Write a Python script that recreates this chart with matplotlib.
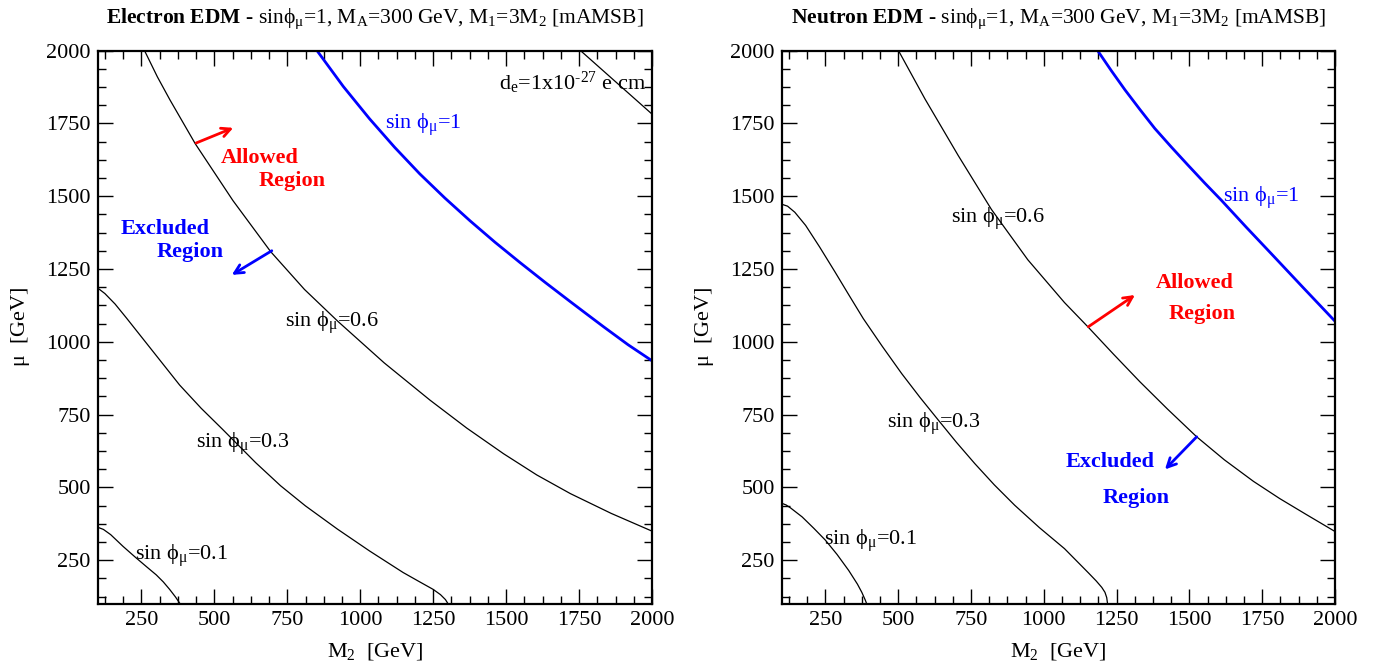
import matplotlib
matplotlib.use('Agg')
import matplotlib.pyplot as plt
from matplotlib.ticker import MultipleLocator

plt.rcParams['font.family'] = ['Liberation Serif', 'DejaVu Serif']
plt.rcParams['mathtext.fontset'] = 'custom'
plt.rcParams['mathtext.rm'] = 'Liberation Serif'
plt.rcParams['mathtext.it'] = 'Liberation Serif:italic'
plt.rcParams['mathtext.bf'] = 'Liberation Serif:bold'
plt.rcParams['mathtext.default'] = 'regular'
plt.rcParams['mathtext.fallback'] = 'stix'

# ---- electron EDM contours (M2, mu) in GeV ----
e_m2_01 = [99, 120, 145, 187, 230, 270, 301, 325, 347, 367, 384]
e_mu_01 = [364, 356, 338, 298, 260, 226, 200, 176, 150, 124, 99]
e_m2_03 = [99, 125, 160, 199, 290, 381, 455, 528, 642, 727, 812, 922, 1032,
           1147, 1200, 1250, 1275, 1292, 1302]
e_mu_03 = [1186, 1166, 1130, 1082, 967, 852, 772, 700, 585, 506, 437, 357, 282,
           208, 178, 150, 132, 115, 99]
e_m2_06 = [261, 305, 348, 435, 564, 693, 809, 925, 1082, 1239, 1365, 1491, 1605,
           1720, 1860, 2000]
e_mu_06 = [2000, 1910, 1831, 1680, 1485, 1310, 1180, 1069, 928, 800, 704, 616, 543,
           479, 411, 350]
e_m2_10 = [852, 942, 1032, 1118, 1204, 1290, 1376, 1462, 1548, 1634, 1720,
           1778, 1835, 1918, 2000]
e_mu_10 = [2000, 1877, 1766, 1668, 1577, 1494, 1416, 1342, 1272, 1204, 1138,
           1094, 1051, 990, 935]
e_m2_lim = [1755, 2000]
e_mu_lim = [2000, 1782]

# ---- neutron EDM contours ----
n_m2_01 = [102, 115, 130, 170, 210, 250, 290, 330, 360, 375, 387, 392]
n_mu_01 = [445, 440, 430, 399, 360, 319, 270, 215, 168, 140, 113, 100]
n_m2_03 = [102, 120, 145, 182, 230, 283, 330, 380, 445, 512, 575, 638, 700,
           763, 830, 900, 985, 1071, 1153, 1180, 1199, 1210, 1216, 1219]
n_mu_03 = [1472, 1466, 1445, 1400, 1326, 1240, 1162, 1080, 985, 891, 809, 731,
           655, 582, 509, 439, 362, 290, 207, 179, 157, 140, 122, 100]
n_m2_06 = [501, 592, 706, 820, 945, 1071, 1153, 1240, 1330, 1425, 1525, 1620,
           1720, 1810, 1900, 1998]
n_mu_06 = [2000, 1834, 1640, 1455, 1282, 1135, 1050, 957, 863, 769, 674, 595,
           521, 462, 408, 350]
n_m2_10 = [1185, 1232, 1279, 1330, 1381, 1438, 1495, 1552, 1610, 1695, 1781,
           1890, 1998]
n_mu_10 = [2000, 1931, 1865, 1798, 1733, 1669, 1607, 1546, 1486, 1394, 1303,
           1187, 1073]

FS = 16
BLUE = '#0000ff'
phi = r'$\phi_\mu$'


def style_axes(ax):
    ax.set_xlim(100, 2000)
    ax.set_ylim(100, 2000)
    ax.xaxis.set_major_locator(MultipleLocator(250))
    ax.xaxis.set_minor_locator(MultipleLocator(62.5))
    ax.yaxis.set_major_locator(MultipleLocator(250))
    ax.yaxis.set_minor_locator(MultipleLocator(62.5))
    ax.tick_params(which='both', direction='in', top=True, right=True,
                   labelsize=FS, pad=5)
    ax.tick_params(which='major', length=11, width=1.0)
    ax.tick_params(which='minor', length=6, width=1.0)
    for s in ax.spines.values():
        s.set_linewidth(1.6)
    ax.set_xlabel(r'M$_2$  [GeV]', fontsize=FS)
    ax.set_ylabel(r'$\mu$  [GeV]', fontsize=FS)
    ax.xaxis.set_label_coords(0.5, -0.067)
    ax.yaxis.set_label_coords(-0.118, 0.5)


def arrow(ax, start, end, color):
    ax.annotate('', xy=end, xytext=start,
                arrowprops=dict(arrowstyle='->', color=color, lw=2,
                                mutation_scale=16, shrinkA=0, shrinkB=0))


fig = plt.figure(figsize=(13.78, 6.71), dpi=100)
ax1 = fig.add_axes([0.0708, 0.0999, 0.4024, 0.8246])
ax2 = fig.add_axes([0.5673, 0.0999, 0.4015, 0.8246])

# electron panel
ax1.plot(e_m2_01, e_mu_01, color='black', lw=0.9)
ax1.plot(e_m2_03, e_mu_03, color='black', lw=0.9)
ax1.plot(e_m2_06, e_mu_06, color='black', lw=0.9)
ax1.plot(e_m2_lim, e_mu_lim, color='black', lw=0.9)
ax1.plot(e_m2_10, e_mu_10, color=BLUE, lw=2.0)
style_axes(ax1)
ax1.set_title(r'$\mathbf{Electron\ EDM}$ - sin$\phi_\mu$=1, M$_A$=300 GeV, '
              r'M$_1$=3M$_2$ [mAMSB]', fontsize=15.5, pad=20)
ax1.text(1474, 1865, r'd$_e$=1x10$^{\text{-27}}$ e cm', fontsize=FS)
ax1.text(1086, 1730, 'sin ' + phi + '=1', fontsize=FS, color=BLUE)
ax1.text(743, 1050, 'sin ' + phi + '=0.6', fontsize=FS)
ax1.text(438, 637, 'sin ' + phi + '=0.3', fontsize=FS)
ax1.text(229, 251, 'sin ' + phi + '=0.1', fontsize=FS)
ax1.text(657, 1613, 'Allowed', fontsize=FS, color='red', weight='bold', ha='center')
ax1.text(766, 1536, 'Region', fontsize=FS, color='red', weight='bold', ha='center')
ax1.text(331, 1370, 'Excluded', fontsize=FS, color=BLUE, weight='bold', ha='center')
ax1.text(416, 1290, 'Region', fontsize=FS, color=BLUE, weight='bold', ha='center')
arrow(ax1, (438, 1683), (565, 1735), 'red')
arrow(ax1, (697, 1313), (560, 1230), BLUE)

# neutron panel
ax2.plot(n_m2_01, n_mu_01, color='black', lw=0.9)
ax2.plot(n_m2_03, n_mu_03, color='black', lw=0.9)
ax2.plot(n_m2_06, n_mu_06, color='black', lw=0.9)
ax2.plot(n_m2_10, n_mu_10, color=BLUE, lw=2.0)
style_axes(ax2)
ax2.set_title(r'$\mathbf{Neutron\ EDM}$ - sin$\phi_\mu$=1, M$_A$=300 GeV, '
              r'M$_1$=3M$_2$ [mAMSB]', fontsize=15.5, pad=20)
ax2.text(1617, 1479, 'sin ' + phi + '=1', fontsize=FS, color=BLUE)
ax2.text(681, 1409, 'sin ' + phi + '=0.6', fontsize=FS)
ax2.text(461, 703, 'sin ' + phi + '=0.3', fontsize=FS)
ax2.text(246, 303, 'sin ' + phi + '=0.1', fontsize=FS)
ax2.text(1519, 1184, 'Allowed', fontsize=FS, color='red', weight='bold', ha='center')
ax2.text(1542, 1078, 'Region', fontsize=FS, color='red', weight='bold', ha='center')
ax2.text(1229, 569, 'Excluded', fontsize=FS, color=BLUE, weight='bold', ha='center')
ax2.text(1316, 448, 'Region', fontsize=FS, color=BLUE, weight='bold', ha='center')
arrow(ax2, (1153, 1052), (1313, 1161), 'red')
arrow(ax2, (1525, 674), (1416, 562), BLUE)

fig.savefig('out.png', dpi=100)
